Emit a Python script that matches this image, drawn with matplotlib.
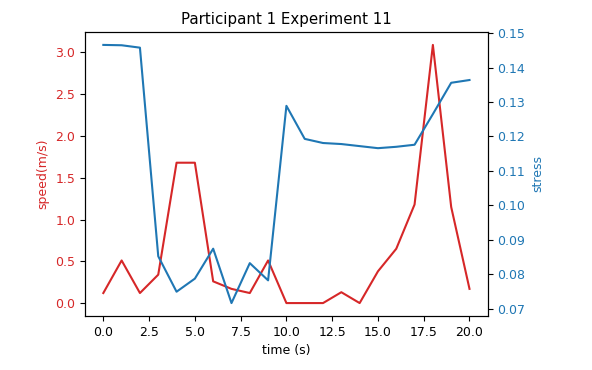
import matplotlib
matplotlib.use("Agg")
import matplotlib.pyplot as plt

plt.rcParams['font.size'] = 9

time_s = list(range(21))
speed = [0.12, 0.51, 0.12, 0.34, 1.68, 1.68, 0.26, 0.17, 0.12, 0.51, 0.0,
         0.0, 0.0, 0.13, 0.0, 0.38, 0.65, 1.18, 3.09, 1.15, 0.17]
stress = [0.1466, 0.1465, 0.1458, 0.0852, 0.0749, 0.0787, 0.0874, 0.0716,
          0.0832, 0.0782, 0.1289, 0.1193, 0.1181, 0.1178, 0.1172, 0.1166,
          0.1170, 0.1176, 0.1265, 0.1356, 0.1364]

fig, ax1 = plt.subplots(figsize=(5.92, 3.70), dpi=100)
fig.subplots_adjust(left=0.1436, right=0.824, top=0.9135, bottom=0.146)

c1 = 'tab:red'
ax1.set_xlabel('time (s)')
ax1.set_ylabel('speed(m/s)', color=c1)
ax1.plot(time_s, speed, color=c1)
ax1.tick_params(axis='y', labelcolor=c1)

ax2 = ax1.twinx()
c2 = 'tab:blue'
ax2.set_ylabel('stress', color=c2)
ax2.plot(time_s, stress, color=c2)
ax2.tick_params(axis='y', labelcolor=c2)

ax1.set_title('Participant 1 Experiment 11')
fig.savefig('out.png', dpi=100)
